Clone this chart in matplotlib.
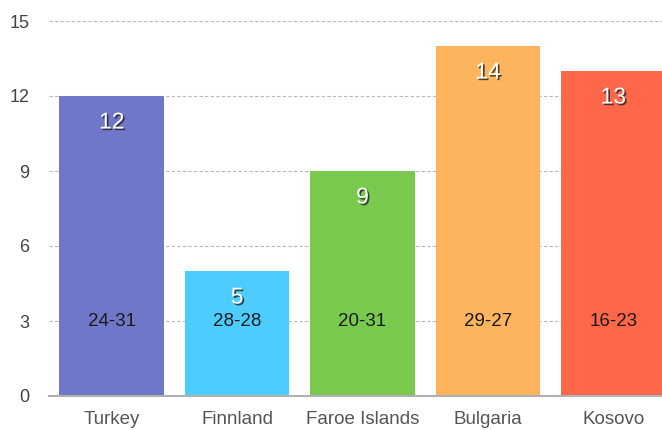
import matplotlib
matplotlib.use("Agg")
import matplotlib.pyplot as plt
import matplotlib.patheffects as pe

categories = ["Turkey", "Finnland", "Faroe Islands", "Bulgaria", "Kosovo"]
values = [12, 5, 9, 14, 13]
inner_labels = ["24-31", "28-28", "20-31", "29-27", "16-23"]
colors = ["#6f77c9", "#4ccdfd", "#7ac94f", "#fdb55d", "#fe674a"]
yticks = [0, 3, 6, 9, 12, 15]

plt.rcParams['font.family'] = ['Liberation Sans', 'DejaVu Sans']

fig = plt.figure(figsize=(6.62, 4.30), dpi=100)
W, H = 662, 430
left, right, bottom, top = 49, 676, 34, 409
ax = fig.add_axes([left / W, bottom / H, (right - left) / W, (top - bottom) / H])

x = list(range(len(categories)))
bars = ax.bar(x, values, width=0.835, color=colors, zorder=2)

ax.set_xlim(-0.5, len(categories) - 0.5)
ax.set_ylim(0, 15)
ax.set_yticks(yticks)
ax.set_yticklabels([str(t) for t in yticks], fontsize=13, color="#444444")
ax.set_xticks(x)
ax.set_xticklabels(categories, fontsize=13.5, color="#555555")
ax.tick_params(axis="y", length=0, pad=14)
ax.tick_params(axis="x", length=0, pad=11)

for s in ["left", "right", "top"]:
    ax.spines[s].set_visible(False)
ax.spines["bottom"].set_color("#b0b0b0")
ax.spines["bottom"].set_linewidth(1.5)
ax.spines["bottom"].set_zorder(3)

ax.yaxis.grid(True, linestyle=(0, (3, 2)), color="#b8b8b8", linewidth=0.8, zorder=1)
ax.set_axisbelow(True)

for xi, v, lab in zip(x, values, inner_labels):
    ax.annotate(str(v), xy=(xi, v), xytext=(0, -26), textcoords="offset pixels",
                ha="center", va="center", fontsize=16.5, color="white",
                path_effects=[pe.withSimplePatchShadow(offset=(1.2, -1.2), shadow_rgbFace="#222222", alpha=0.8)],
                zorder=4)
    ax.text(xi, 3, lab, ha="center", va="center", fontsize=13.5, color="#1a1a1a", zorder=4)

fig.savefig("out.png", dpi=100)
